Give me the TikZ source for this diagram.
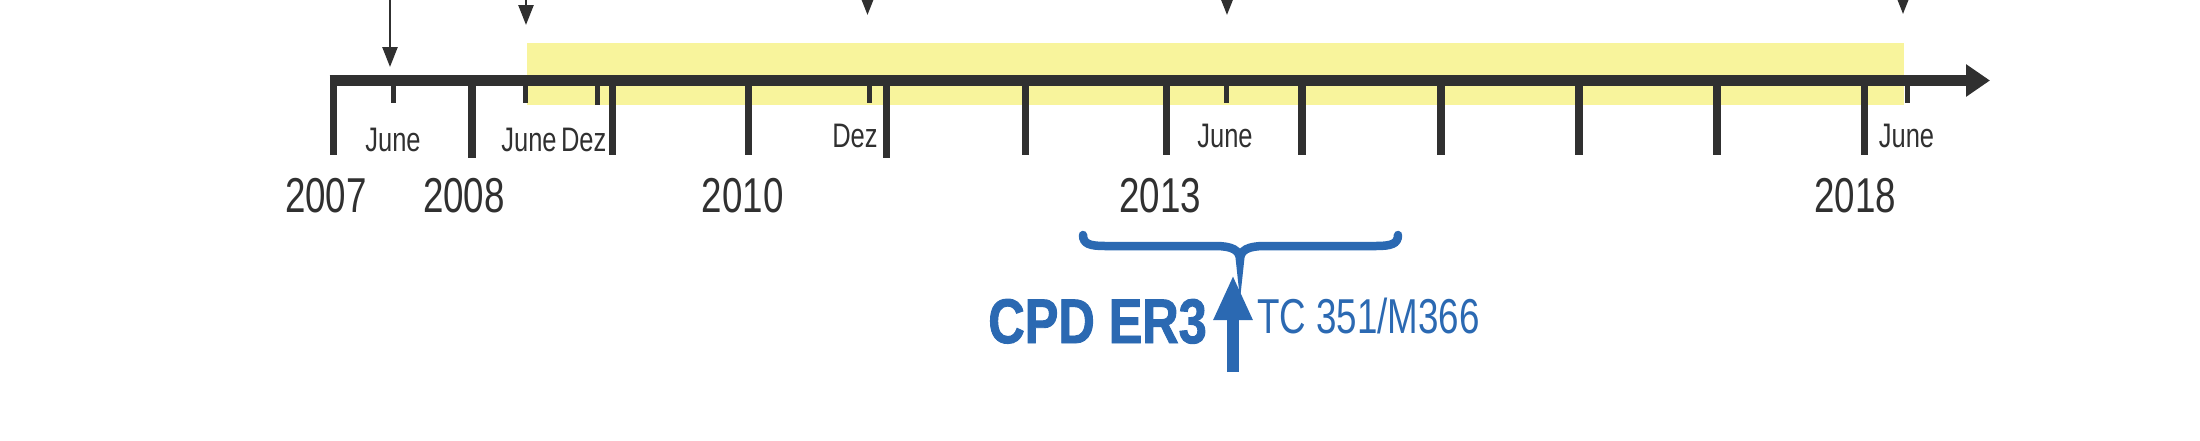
\documentclass[tikz,border=0pt]{standalone}
\usepackage{fontspec}
\setmainfont{Liberation Sans}
\newfontfamily\nf{Liberation Sans}[FakeStretch=0.75]
\newfontfamily\nfb{Liberation Sans}[FakeStretch=0.8,BoldFeatures={FakeBold=1.5}]
\usetikzlibrary{arrows.meta}
\definecolor{ax}{HTML}{303030}
\definecolor{bl}{HTML}{2B69B2}
\definecolor{yl}{HTML}{F8F49C}
\begin{document}
\begin{tikzpicture}[x=1pt,y=-1pt,
  major/.style={line width=7.5pt, draw=ax},
  minor/.style={line width=5pt, draw=ax},
  year/.style={font=\nf\fontsize{49}{49}\selectfont, text=ax, inner sep=0pt, anchor=base},
  mon/.style={font=\nf\fontsize{34}{34}\selectfont, text=ax, inner sep=0pt, anchor=base},
  topar/.style={draw=ax, line width=2.5pt, -{Triangle[width=15pt,length=20pt]}},
]
\useasboundingbox (0,0) rectangle (2200,440);
% yellow band
\fill[yl] (527,43.3) rectangle (1904,104.7);
% axis
\coordinate (axL) at (329.6,80.5);
\coordinate (axR) at (1990,80.5);
\draw[line width=11.5pt, draw=ax, -{Triangle[width=31pt,length=24pt]}] (axL) -- (axR);
% major ticks
\foreach \x/\b [count=\i] in {333.3/155,472.2/158,612.7/155,748.3/155,886.7/158,1025.4/155,1166.3/155,1301.9/155,1440.8/155,1579.1/155,1717/155,1864.7/155}{
  \coordinate (mt\i) at (\x,76);
  \coordinate (mb\i) at (\x,\b);
  \draw[major] (mt\i) -- (mb\i);
}
% minor ticks
\foreach \x/\b [count=\i] in {393.4/103,525.7/103,597/105,869/103,1226/103,1907.2/103}{
  \coordinate (nt\i) at (\x,80);
  \coordinate (nb\i) at (\x,\b);
  \draw[minor] (nt\i) -- (nb\i);
}
% top arrows
\foreach \x/\t [count=\i] in {390/67,526/25,867.5/15,1227/15,1903/14}{
  \coordinate (as\i) at (\x,-30);
  \coordinate (ae\i) at (\x,\t);
  \draw[topar] (as\i) -- (ae\i);
}
% month labels
\node[mon] (m1) at (393,151) {June};
\node[mon] (m2) at (529,151) {June};
\node[mon] (m3) at (583.7,151) {Dez};
\node[mon] (m4) at (855,147) {Dez};
\node[mon] (m5) at (1225,147) {June};
\node[mon] (m6) at (1906.5,147) {June};
% years
\node[year] (y1) at (326,212) {2007};
\node[year] (y2) at (464,212) {2008};
\node[year] (y3) at (742.7,212) {2010};
\node[year] (y4) at (1160,212) {2013};
\node[year] (y5) at (1855,212) {2018};
% brace
\coordinate (bc) at (1240,260);
\draw[bl, line width=8.5pt, line cap=round]
  (1083,235) .. controls (1083,244) and (1090,246) .. (1105,246) -- (1215,246)
  .. controls (1232,246) and (1240,250) .. (bc)
  .. controls (1240,250) and (1248,246) .. (1265,246) -- (1376,246)
  .. controls (1391,246) and (1398,244) .. (1398,235);
% blue arrow
\coordinate (bs) at (1233,372);
\coordinate (be) at (1233,275);
\draw[bl, line width=12.6pt, -{Triangle[width=36pt,length=45pt]}] (bs) -- (be);
\node[font=\nfb\bfseries\fontsize{63}{63}\selectfont, text=bl, inner sep=0pt, anchor=base east] (cpd) at (1207,343) {CPD ER3};
\node[font=\nf\fontsize{49}{49}\selectfont, text=bl, inner sep=0pt, anchor=base west] (tc) at (1257,333) {TC 351/M366};
\end{tikzpicture}
\end{document}
